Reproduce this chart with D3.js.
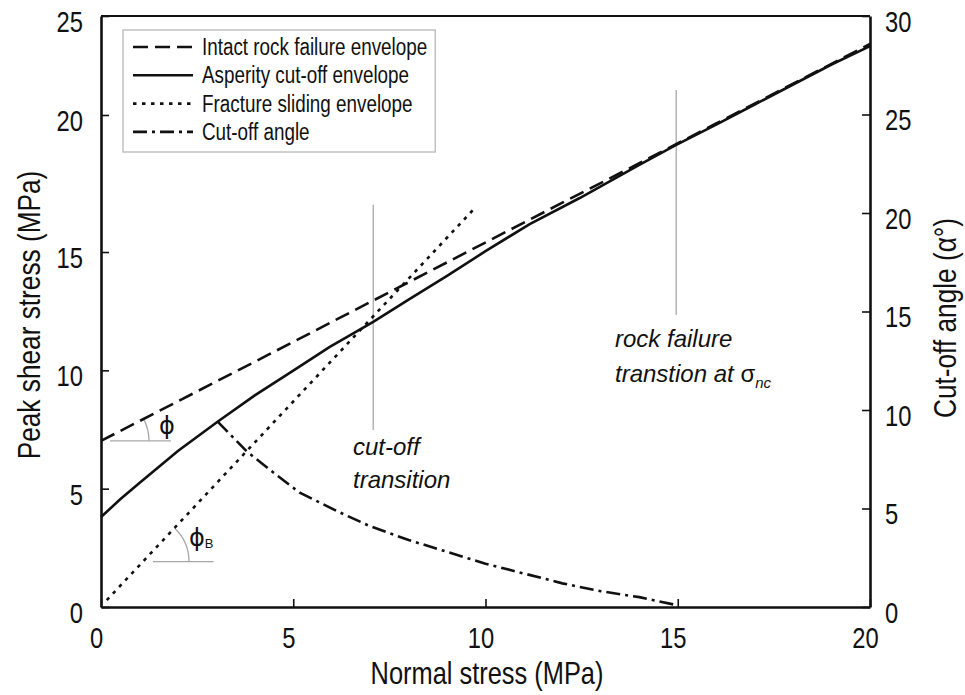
<!DOCTYPE html>
<html>
<head>
<meta charset="utf-8">
<script src="https://cdn.jsdelivr.net/npm/d3@7"></script>
<style>
  body { margin: 0; background: #fff; }
  svg text { font-family: "Liberation Sans", Arial, sans-serif; fill: #111; }
</style>
</head>
<body>
<div id="chart"></div>
<script>
// tick values
const xTicks = [0, 5, 10, 15, 20];
const yLeftTicks = [0, 5, 10, 15, 20, 25];
const yRightTicks = [0, 5, 10, 15, 20, 25, 30];

// intact rock failure envelope (dashed)
const intactStress = [0, 5, 9.52, 12, 14, 16, 18, 20];
const intactShear = [7.02, 11.2, 15.0, 16.8, 18.24, 19.69, 21.58, 23.59];

// asperity cut-off envelope (solid)
const asperityStress = [0, 0.5, 1, 2, 3.04, 4, 5, 5.95, 7.08, 8, 9, 10, 11.15, 12.45, 14, 14.96, 16, 17, 18, 19, 20];
const asperityShear = [3.8, 4.55, 5.24, 6.59, 7.84, 8.94, 9.99, 10.99, 12.05, 12.99, 13.99, 15.03, 16.02, 16.97, 18.18, 18.91, 19.65, 20.53, 21.54, 22.55, 23.48];

// fracture sliding envelope (dotted)
const fractureStress = [0.15, 8.65, 9.72];
const fractureShear = [0.29, 15.0, 16.6];

// cut-off angle (dash-dot, right axis)
const angleStress = [3.04, 3.79, 4.5, 5.17, 6.21, 7, 8, 9, 10, 11, 12, 13, 14, 14.96];
const angleValue = [9.4, 7.9, 6.8, 5.8, 4.8, 4.1, 3.4, 2.8, 2.2, 1.7, 1.2, 0.8, 0.5, 0.1];

// transition markers: stress, shear range
const transitionStress = [7.08, 14.96];
const transitionLow = [7.48, 12.34];
const transitionHigh = [16.72, 21.26];

const legendLabels = ["Intact rock failure envelope", "Asperity cut-off envelope", "Fracture sliding envelope", "Cut-off angle"];

const width = 965, height = 695;
const plotLeft = 101, plotRight = 870, plotTop = 16, plotBottom = 607;
const squeeze = 0.82;

const svg = d3.select("#chart").append("svg")
    .attr("width", width)
    .attr("height", height);

const x = d3.scaleLinear().domain([0, 20]).range([plotLeft, plotRight]);
// left axis of the original is not evenly spaced above 15
const yL = d3.scaleLinear().domain([0, 15, 20, 25]).range([plotBottom, 252, 115, plotTop]);
const yR = d3.scaleLinear().domain([0, 30]).range([plotBottom, plotTop]);

const styles = [
    { dash: "15,7" },
    { dash: null },
    { dash: "3.5,5.5" },
    { dash: "14,5,3,5" }
];

// gray annotation lines
const gray = "#a8a8a8";
transitionStress.forEach((s, i) => {
    svg.append("line")
        .attr("x1", x(s)).attr("x2", x(s))
        .attr("y1", yL(transitionLow[i])).attr("y2", yL(transitionHigh[i]))
        .attr("stroke", gray).attr("stroke-width", 1.3);
});

// phi angle markers
function angleMark(cx, cy, r, ax, ay, bx, by, lineX0, lineX1) {
    const ang = Math.atan2(ay - by, bx - ax);
    svg.append("line")
        .attr("x1", lineX0).attr("x2", lineX1)
        .attr("y1", cy).attr("y2", cy)
        .attr("stroke", gray).attr("stroke-width", 1.3);
    svg.append("path")
        .attr("d", `M${cx + r},${cy} A${r},${r} 0 0 0 ${cx + r * Math.cos(ang)},${cy - r * Math.sin(ang)}`)
        .attr("fill", "none").attr("stroke", gray).attr("stroke-width", 1.3);
}
angleMark(x(0), yL(intactShear[0]), 48,
    x(intactStress[0]), yL(intactShear[0]), x(intactStress[1]), yL(intactShear[1]),
    x(0) + 9, x(0) + 70);
const phiBShear = 1.92;
const phiBStress = fractureStress[0] + (phiBShear - fractureShear[0]) * (fractureStress[1] - fractureStress[0]) / (fractureShear[1] - fractureShear[0]);
angleMark(x(phiBStress), yL(phiBShear), 46,
    x(fractureStress[0]), yL(fractureShear[0]), x(fractureStress[1]), yL(fractureShear[1]),
    x(1.35), x(2.93));

// curves
const lineL = d3.line().x(d => x(d[0])).y(d => yL(d[1]));
const lineR = d3.line().x(d => x(d[0])).y(d => yR(d[1]));

const curves = [
    { d: lineL(d3.zip(intactStress, intactShear)), s: styles[0] },
    { d: lineL(d3.zip(asperityStress, asperityShear)), s: styles[1] },
    { d: lineL(d3.zip(fractureStress, fractureShear)), s: styles[2] },
    { d: lineR(d3.zip(angleStress, angleValue)), s: styles[3] }
];
curves.forEach(c => {
    svg.append("path")
        .attr("d", c.d)
        .attr("fill", "none")
        .attr("stroke", "#111")
        .attr("stroke-width", 2.6)
        .attr("stroke-dasharray", c.s.dash);
});

// axes
function fixTicks(g, size) {
    g.selectAll("text")
        .style("font-size", size + "px")
        .each(function () {
            const t = d3.select(this);
            t.attr("x", (+t.attr("x") || 0) / squeeze);
        })
        .attr("transform", `scale(${squeeze},1)`);
    g.selectAll(".tick line").attr("stroke", "#111").attr("stroke-width", 1.6);
    g.select(".domain").attr("stroke", "#111").attr("stroke-width", 2.6);
}

const gx = svg.append("g")
    .attr("transform", `translate(0,${plotBottom})`)
    .call(d3.axisBottom(x).tickValues(xTicks).tickSize(-8).tickSizeOuter(0));
fixTicks(gx, 29);
gx.selectAll("text").attr("y", 0).attr("dy", 41).attr("dx", -6);

const gl = svg.append("g")
    .attr("transform", `translate(${plotLeft},0)`)
    .call(d3.axisLeft(yL).tickValues(yLeftTicks).tickSize(-8).tickSizeOuter(0).tickPadding(18));
fixTicks(gl, 29);
gl.selectAll("text").attr("dy", "0.53em");

const gr = svg.append("g")
    .attr("transform", `translate(${plotRight},0)`)
    .call(d3.axisRight(yR).tickValues(yRightTicks).tickSize(-8).tickSizeOuter(0).tickPadding(15));
fixTicks(gr, 29);
gr.selectAll("text").attr("dy", "0.53em");

// top border
svg.append("line")
    .attr("x1", plotLeft).attr("x2", plotRight)
    .attr("y1", plotTop).attr("y2", plotTop)
    .attr("stroke", "#111").attr("stroke-width", 2.2);

// axis titles
svg.append("text")
    .attr("transform", `translate(487,684) scale(${squeeze},1)`)
    .attr("text-anchor", "middle")
    .style("font-size", "31px")
    .text("Normal stress (MPa)");

svg.append("text")
    .attr("transform", `translate(40,315) rotate(-90) scale(${squeeze},1)`)
    .attr("text-anchor", "middle")
    .style("font-size", "32px")
    .text("Peak shear stress (MPa)");

svg.append("text")
    .attr("transform", `translate(956,318) rotate(-90) scale(${squeeze},1)`)
    .attr("text-anchor", "middle")
    .style("font-size", "32px")
    .text("Cut-off angle (α°)");

// annotations
function italicLines(x0, y0, lines, dy) {
    lines.forEach((ln, i) => {
        const t = svg.append("text")
            .attr("x", x0).attr("y", y0 + i * dy)
            .style("font-size", "24px")
            .style("font-style", "italic");
        ln.forEach(part => {
            const sp = t.append("tspan").text(part.t);
            if (part.sub) sp.attr("dy", 6).style("font-size", "15px");
            if (part.up) sp.style("font-style", "normal");
        });
    });
}
italicLines(353, 455, [[{ t: "cut-off" }], [{ t: "transition" }]], 33);
italicLines(615, 347, [[{ t: "rock failure" }], [{ t: "transtion at " }, { t: "σ", up: true }, { t: "nc", sub: true }]], 35);

svg.append("text")
    .attr("x", 167).attr("y", 434)
    .attr("text-anchor", "middle")
    .style("font-family", "'DejaVu Sans', sans-serif")
    .style("font-size", "24px")
    .text("ϕ");
const phiB = svg.append("text")
    .attr("x", 189).attr("y", 546)
    .style("font-size", "24px");
phiB.append("tspan").text("ϕ").style("font-family", "'DejaVu Sans', sans-serif");
phiB.append("tspan").text("B").style("font-size", "13px").attr("dy", 2);

// legend
const legend = svg.append("g");
const lgX = 123, lgY = 30, rowH = 28.3;
const box = legend.append("rect")
    .attr("x", lgX).attr("y", lgY)
    .attr("height", 122)
    .attr("fill", "#fff")
    .attr("stroke", "#b8b8b8")
    .attr("stroke-width", 1.3);
let maxW = 0;
legendLabels.forEach((lab, i) => {
    const cy = lgY + 17 + i * rowH;
    legend.append("line")
        .attr("x1", lgX + 10).attr("x2", lgX + 70)
        .attr("y1", cy).attr("y2", cy)
        .attr("stroke", "#111").attr("stroke-width", 2.6)
        .attr("stroke-dasharray", styles[i].dash);
    const t = legend.append("text")
        .attr("transform", `translate(${lgX + 79},${cy + 8}) scale(${squeeze},1)`)
        .style("font-size", "23px")
        .text(lab);
    maxW = Math.max(maxW, t.node().getComputedTextLength() * squeeze);
});
box.attr("width", 79 + maxW + 8);
</script>
</body>
</html>
